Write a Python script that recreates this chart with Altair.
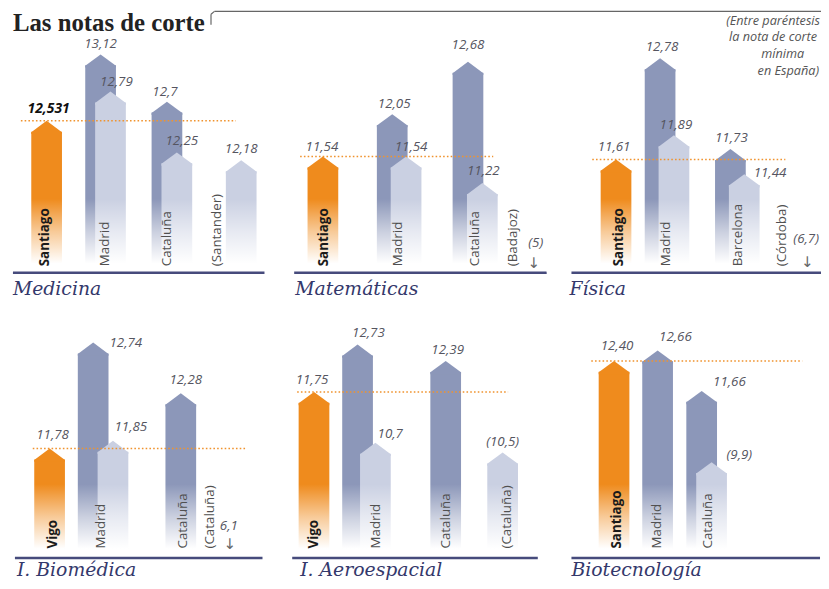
import altair as alt
import pandas as pd

# ---------------- data ----------------
TITLE = "Las notas de corte"
NOTE = ["(Entre paréntesis", "la nota de corte", "mínima", "en España)"]

PANEL_NAMES = ["Medicina", "Matemáticas", "Física",
               "I. Biomédica", "I. Aeroespacial", "Biotecnología"]

# kind: local (orange), max (dark), min (light)
BAR_KINDS = [
    ["local", "max", "min", "max", "min", "min"],
    ["local", "max", "min", "max", "min"],
    ["local", "max", "min", "max", "min"],
    ["local", "max", "min", "max"],
    ["local", "max", "min", "max", "min"],
    ["local", "max", "max", "min"],
]
BAR_VALUES = [
    [12.531, 13.12, 12.79, 12.7, 12.25, 12.18],
    [11.54, 12.05, 11.54, 12.68, 11.22],
    [11.61, 12.78, 11.89, 11.73, 11.44],
    [11.78, 12.74, 11.85, 12.28],
    [11.75, 12.73, 10.7, 12.39, 10.5],
    [12.40, 12.66, 11.66, 9.9],
]
BAR_TEXTS = [
    ["12,531", "13,12", "12,79", "12,7", "12,25", "12,18"],
    ["11,54", "12,05", "11,54", "12,68", "11,22"],
    ["11,61", "12,78", "11,89", "11,73", "11,44"],
    ["11,78", "12,74", "11,85", "12,28"],
    ["11,75", "12,73", "10,7", "12,39", "(10,5)"],
    ["12,40", "12,66", "11,66", "(9,9)"],
]
PLACES = [
    ["Santiago", "Madrid", "Cataluña", "(Santander)"],
    ["Santiago", "Madrid", "Cataluña", "(Badajoz)"],
    ["Santiago", "Madrid", "Barcelona", "(Córdoba)"],
    ["Vigo", "Madrid", "Cataluña", "(Cataluña)"],
    ["Vigo", "Madrid", "Cataluña", "(Cataluña)"],
    ["Santiago", "Madrid", "Cataluña"],
]
OFF_SCALE = [None, "(5)", "(6,7)", "6,1", None, None]

# ---------------- layout / style ----------------
ORANGE = "#ef8b1d"
DARK = "#8c97b9"
LIGHT = "#cad0e2"
NAVY = "#464b7c"
TITLE_C = "#34386b"
COLORS = {"local": ORANGE, "max": DARK, "min": LIGHT}

TOTAL_W, TOTAL_H = 821, 573
W = 272
HALF = 15.5          # half bar width, in panel pixel units
ROWS = [dict(oy=0, base=264, lab=258, ty=287),
        dict(oy=300, base=252, lab=243, ty=271)]

DOMAINS = [(11.187, 13.507), (10.147, 13.294), (10.306, 13.330),
           (10.794, 13.054), (8.333, 13.487), (7.550, 13.711)]
BAR_X = [
    [39, 93.5, 103.5, 160.5, 170.5, 235.5],
    [46, 116, 130, 192.5, 207],
    [70, 114.5, 128.5, 185.5, 199.5],
    [42, 86, 106, 174.5],
    [37, 81, 99, 170, 227.5],
    [68, 112, 156.5, 166.5],
]
LABEL_NUDGE = [
    [(2, -12), (0, -10), (6, -10), (-2, -10), (5, -12), (0, -11)],
    [(-1, -10), (2, -10), (5, -10), (0, -17), (1, -12)],
    [(-2, -13), (2, -11), (2, -10), (1, -11), (26, -1)],
    [(3, -14), (33, 0), (18, -14), (5, -13)],
    [(-2, -12), (11, -12), (15, -9), (2, -11), (0, -11)],
    [(3, -15), (18, -14), (28, -9), (28, -7)],
]
LABEL_BOLD = [0, None, None, None, None, None]
PLACE_X = [
    [37, 98, 161, 211],
    [47, 122, 200, 238],
    [73, 121, 193, 238],
    [45, 94, 177, 204],
    [37, 100, 170, 232],
    [71, 111, 163],
]
REF_SPAN = [(13, 230), (23, 218), (46, 241), (25, 240), (20, 233), (45, 258)]
BASE_SPAN = [(5, 259), (17, 272), (25, 280), (7, 257), (15, 263), (25, 276)]
TITLE_X = [5, 18, 23, 9, 23, 25]
OFF_POS = [None, (261, 235, 259, 255), (262, 230, 263, 254),
           (223, 220, 224, 239), None, None]

TIP = "M0,0 L1,0.74 L1,0.86 L-1,0.86 L-1,0.74 Z"
ONE = pd.DataFrame({"a": [0]})
SANS = "Open Sans"


def panel(i):
    row = ROWS[i // 3]
    ox, oy = W * (i % 3), row["oy"]
    lo, hi = DOMAINS[i]
    base = row["base"]
    ppu = base / (hi - lo)
    xs = alt.Scale(domain=[0, W], range=[ox, ox + W], nice=False, zero=False)
    ys = alt.Scale(domain=[lo, hi], range=[oy + base, oy], nice=False, zero=False)

    n = len(BAR_VALUES[i])
    df = pd.DataFrame({
        "x": BAR_X[i],
        "value": BAR_VALUES[i],
        "kind": BAR_KINDS[i],
        "text": BAR_TEXTS[i],
        "lx": [BAR_X[i][j] + LABEL_NUDGE[i][j][0] for j in range(n)],
        "ly": [BAR_VALUES[i][j] - LABEL_NUDGE[i][j][1] / ppu for j in range(n)],
        "bold": [LABEL_BOLD[i] == j for j in range(n)],
    })
    bars = alt.Chart(df)
    X = alt.X("x:Q", scale=xs, axis=None)
    Y = alt.Y("value:Q", scale=ys, axis=None)

    layers = []
    for kind in ["max", "min", "local"]:
        sub = bars.transform_filter(alt.datum.kind == kind)
        layers.append(sub.transform_calculate(
            xl=f"datum.x - {HALF}", xr=f"datum.x + {HALF}").mark_bar(
            yOffset=11, color=COLORS[kind]).encode(
            x=alt.X("xl:Q", scale=xs, axis=None), x2="xr:Q",
            y=Y, y2=alt.datum(lo)))
        layers.append(sub.mark_point(shape=TIP, size=(2 * HALF) ** 2, filled=True,
                                     opacity=1, color=COLORS[kind],
                                     strokeWidth=0).encode(x=X, y=Y))

    # fade to white at the bottom
    fade = alt.LinearGradient(
        gradient="linear",
        stops=[alt.GradientStop(color="rgba(255,255,255,0)", offset=0),
               alt.GradientStop(color="rgba(255,255,255,0.55)", offset=0.45),
               alt.GradientStop(color="#ffffff", offset=0.88),
               alt.GradientStop(color="#ffffff", offset=1)],
        x1=0, x2=0, y1=0, y2=1)
    layers.append(alt.Chart(ONE).mark_rect(fill=fade).encode(
        x=alt.value(ox), x2=alt.value(ox + W),
        y=alt.value(oy + base - 74), y2=alt.value(oy + base)))

    # dotted reference line at the local value
    r0, r1 = REF_SPAN[i]
    layers.append(bars.transform_filter(alt.datum.kind == "local").mark_rule(
        color="#f0932e", strokeWidth=1.6, strokeDash=[1.6, 2.2]).encode(
        y=Y, x=alt.value(ox + r0), x2=alt.value(ox + r1)))

    # baseline
    b0, b1 = BASE_SPAN[i]
    layers.append(alt.Chart(ONE).mark_rule(color=NAVY, strokeWidth=2.5).encode(
        x=alt.value(ox + b0), x2=alt.value(ox + b1), y=alt.value(oy + base + 0.5)))

    # vertical place labels
    pl = pd.DataFrame({"place": PLACES[i], "x": PLACE_X[i],
                       "bold": [j == 0 for j in range(len(PLACES[i]))]})
    pc = alt.Chart(pl)
    layers.append(pc.transform_filter("datum.bold").mark_text(
        angle=270, align="left", baseline="middle", font=SANS, fontSize=13.5,
        fontWeight="bold", color="#1a1a1a").encode(
        x=alt.X("x:Q", scale=xs, axis=None), y=alt.value(oy + row["lab"]), text="place:N"))
    layers.append(pc.transform_filter("!datum.bold").mark_text(
        angle=270, align="left", baseline="middle", font=SANS, fontSize=13.5,
        color="#505050").encode(
        x=alt.X("x:Q", scale=xs, axis=None), y=alt.value(oy + row["lab"]), text="place:N"))

    # value labels
    LX = alt.X("lx:Q", scale=xs, axis=None)
    LY = alt.Y("ly:Q", scale=ys, axis=None)
    layers.append(bars.transform_filter("!datum.bold").mark_text(
        font=SANS, fontStyle="italic", fontSize=13.5, color="#555560",
        align="center", baseline="middle").encode(x=LX, y=LY, text="text:N"))
    layers.append(bars.transform_filter("datum.bold").mark_text(
        font=SANS, fontStyle="italic", fontWeight="bold", fontSize=14,
        color="#111111", align="center", baseline="middle").encode(x=LX, y=LY, text="text:N"))

    # off-scale minimum
    if OFF_SCALE[i]:
        tx, ty, ax, ay = OFF_POS[i]
        layers.append(alt.Chart(ONE).mark_text(
            font=SANS, fontStyle="italic", fontSize=13.5, color="#555560",
            align="center", baseline="middle").encode(
            x=alt.value(ox + tx), y=alt.value(oy + ty), text=alt.value(OFF_SCALE[i])))
        layers.append(alt.Chart(ONE).mark_text(
            font="DejaVu Sans", fontSize=15, color="#666666",
            align="center", baseline="middle").encode(
            x=alt.value(ox + ax), y=alt.value(oy + ay), text=alt.value("↓")))

    # panel title
    layers.append(alt.Chart(ONE).mark_text(
        font="DejaVu Serif", fontStyle="italic", fontSize=19, color=TITLE_C,
        align="left", baseline="alphabetic").encode(
        x=alt.value(ox + TITLE_X[i]), y=alt.value(oy + row["ty"]),
        text=alt.value(PANEL_NAMES[i])))
    return layers


layers = []
for i in range(6):
    layers += panel(i)

# main title, bracket line and note
layers.append(alt.Chart(ONE).mark_text(
    font="Liberation Serif", fontWeight="bold", fontSize=25, color="#222222",
    align="left", baseline="alphabetic").encode(
    x=alt.value(5), y=alt.value(20), text=alt.value(TITLE)))
line = dict(color="#666666", strokeWidth=1.2)
layers.append(alt.Chart(ONE).mark_rule(**line).encode(
    x=alt.value(205), x2=alt.value(205), y=alt.value(14), y2=alt.value(3.5)))
layers.append(alt.Chart(ONE).mark_rule(**line).encode(
    x=alt.value(205), x2=alt.value(208.5), y=alt.value(3.5), y2=alt.value(0.6)))
layers.append(alt.Chart(ONE).mark_rule(**line).encode(
    x=alt.value(208.5), x2=alt.value(TOTAL_W), y=alt.value(0.6)))
for t, nx, ny in zip(NOTE, [820, 817, 804, 819], [10, 27, 44, 61]):
    layers.append(alt.Chart(ONE).mark_text(
        font=SANS, fontStyle="italic", fontSize=12.8, color="#555555",
        align="right", baseline="middle").encode(
        x=alt.value(nx), y=alt.value(ny), text=alt.value(t)))

chart = alt.layer(*layers).resolve_scale(x="independent", y="independent").properties(
    width=TOTAL_W, height=TOTAL_H, padding=0,
    autosize=alt.AutoSizeParams(type="none"),
).configure_view(strokeOpacity=0)

chart.save("out.html", embed_options={"renderer": "svg", "actions": False})
